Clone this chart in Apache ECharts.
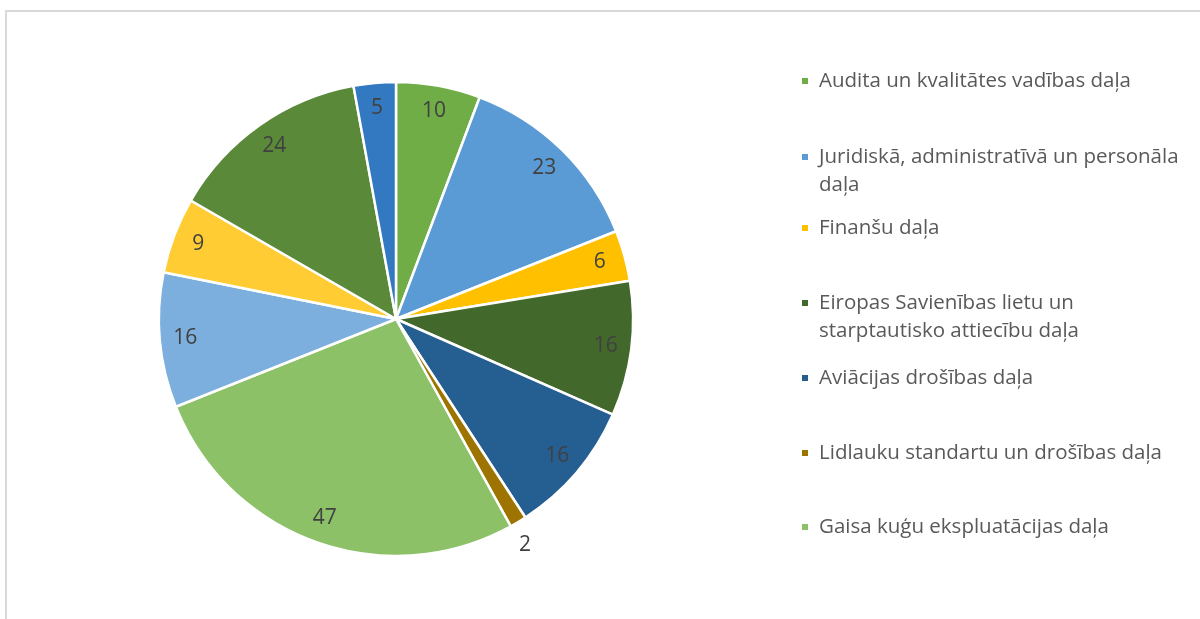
<!DOCTYPE html>
<html>
<head>
<meta charset="utf-8">
<title>Daļas</title>
<script src="https://cdn.jsdelivr.net/npm/echarts@6/dist/echarts.min.js"></script>
<style>
  html, body { margin: 0; padding: 0; background: #fff; }
  #chart { width: 1200px; height: 619px; }
</style>
</head>
<body>
<div id="chart"></div>
<script>
// slices, clockwise from 12 o'clock
const names = [
  "Audita un kvalitātes vadības daļa",
  "Juridiskā, administratīvā un personāla\ndaļa",
  "Finanšu daļa",
  "Eiropas Savienības lietu un\nstarptautisko attiecību daļa",
  "Aviācijas drošības daļa",
  "Lidlauku standartu un drošības daļa",
  "Gaisa kuģu ekspluatācijas daļa",
  "p8", "p9", "p10", "p11" // not in the legend
];
const values = [10, 23, 6, 16, 16, 2, 47, 16, 9, 24, 5];
const colors = ["#70AD47", "#5B9BD5", "#FFC000", "#43682B", "#255E91", "#9E7400",
  "#8CC168", "#7CAFDD", "#FFCD33", "#5A8A39", "#3279C2"];
const legendNames = names.slice(0, 7);

const FONT = "Open Sans";
const legendTops = [67, 143, 214, 289, 364, 439, 513]; // first line centre - 14

const chart = echarts.init(document.getElementById("chart"), null, { renderer: "canvas" });

// two-line entries: square sits at top of a taller icon so it lines up with line 1
const tallIcon = "path://M0,0h8v8h-8z M0,35.99h0.01v0.01h-0.01z";

const legends = legendNames.map((n, i) => {
  const multi = n.includes("\n");
  return {
    data: [n],
    left: 800,
    top: legendTops[i],
    padding: 0,
    icon: multi ? tallIcon : "rect",
    itemWidth: 8,
    itemHeight: multi ? 36 : 8,
    selectedMode: false,
    textStyle: {
      fontFamily: FONT,
      fontSize: 20.5,
      color: "#595959",
      lineHeight: 28,
      padding: [0, 0, 0, 5],
    },
  };
});

const option = {
  backgroundColor: "#fff",
  color: colors,
  animation: false,
  legend: legends,
  graphic: [{
    type: "rect",
    shape: { x: 6, y: 11, width: 1300, height: 700 },
    style: { fill: "none", stroke: "#D9D9D9", lineWidth: 2 },
    silent: true,
  }],
  series: [
    {
      type: "pie",
      center: [396, 319],
      radius: 237,
      startAngle: 90,
      clockwise: true,
      label: { show: false },
      labelLine: { show: false },
      itemStyle: { borderColor: "#fff", borderWidth: 2.5 },
      data: names.map((n, i) => ({ name: n, value: values[i] })),
    },
    {
      // invisible ring only used to place the value labels near the rim
      type: "pie",
      center: [396, 319],
      radius: [180, 237],
      startAngle: 90,
      clockwise: true,
      silent: true,
      avoidLabelOverlap: false,
      itemStyle: { color: "rgba(0,0,0,0)" },
      label: {
        show: true,
        position: "inside",
        formatter: "{c}",
        fontFamily: FONT,
        fontSize: 21,
        color: "#404040",
      },
      labelLine: { show: false },
      data: names.map((n, i) => {
        const d = { name: n, value: values[i] };
        if (values[i] === 2) {
          d.label = { position: "outside", distanceToLabelLine: -13 };
          d.labelLine = { show: false, length: 27, length2: 0 };
        }
        return d;
      }),
    },
  ],
};

chart.setOption(option);
</script>
</body>
</html>
